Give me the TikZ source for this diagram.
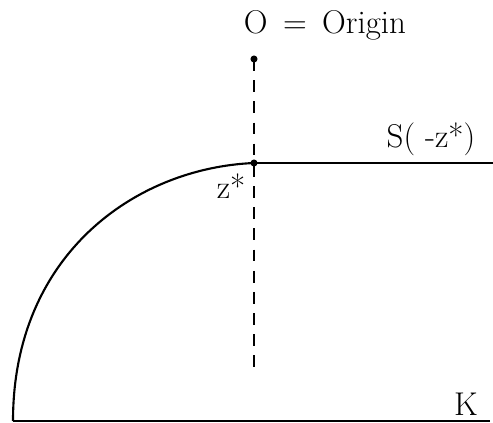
\documentclass[tikz,border=0pt]{standalone}
\usetikzlibrary{positioning}
\tikzset{
  solid_line/.style={line width=1.8pt},
  dash_line/.style={line width=1.6pt,dash pattern=on 10pt off 8pt},
  pt_dot/.style={circle,fill=black,inner sep=0pt,minimum size=6pt},
  lbl/.style={font=\fontsize{28}{33}\selectfont,inner sep=0pt},
}
\begin{document}
\begin{tikzpicture}[x=0.85pt,y=-0.85pt]
  \useasboundingbox (0,0) rectangle (493,423);

  \node[pt_dot] (origin) at (254,59) {};
  \node[pt_dot] (zstar) at (254,163) {};
  \coordinate (dashend) at (254,368);
  \coordinate (sright) at (493,163);
  \coordinate (kleft) at (13,421);
  \coordinate (kright) at (490,421);

  \node[lbl,anchor=base] (title) at (325,33) {O \,=\, Origin};
  \node[lbl,anchor=base] (zlbl) at (231,198) {z*};
  \node[lbl,anchor=base] (slbl) at (431,147) {S( -z*)};
  \node[lbl,anchor=base] (klbl) at (466,415) {K};

  \draw[dash_line] (origin.center) -- (dashend);
  \draw[solid_line] (zstar.center) -- (sright);
  \draw[solid_line] (kleft) .. controls (13,255) and (135,168) .. (zstar.center);
  \draw[solid_line] (kleft) -- (kright);
\end{tikzpicture}
\end{document}
